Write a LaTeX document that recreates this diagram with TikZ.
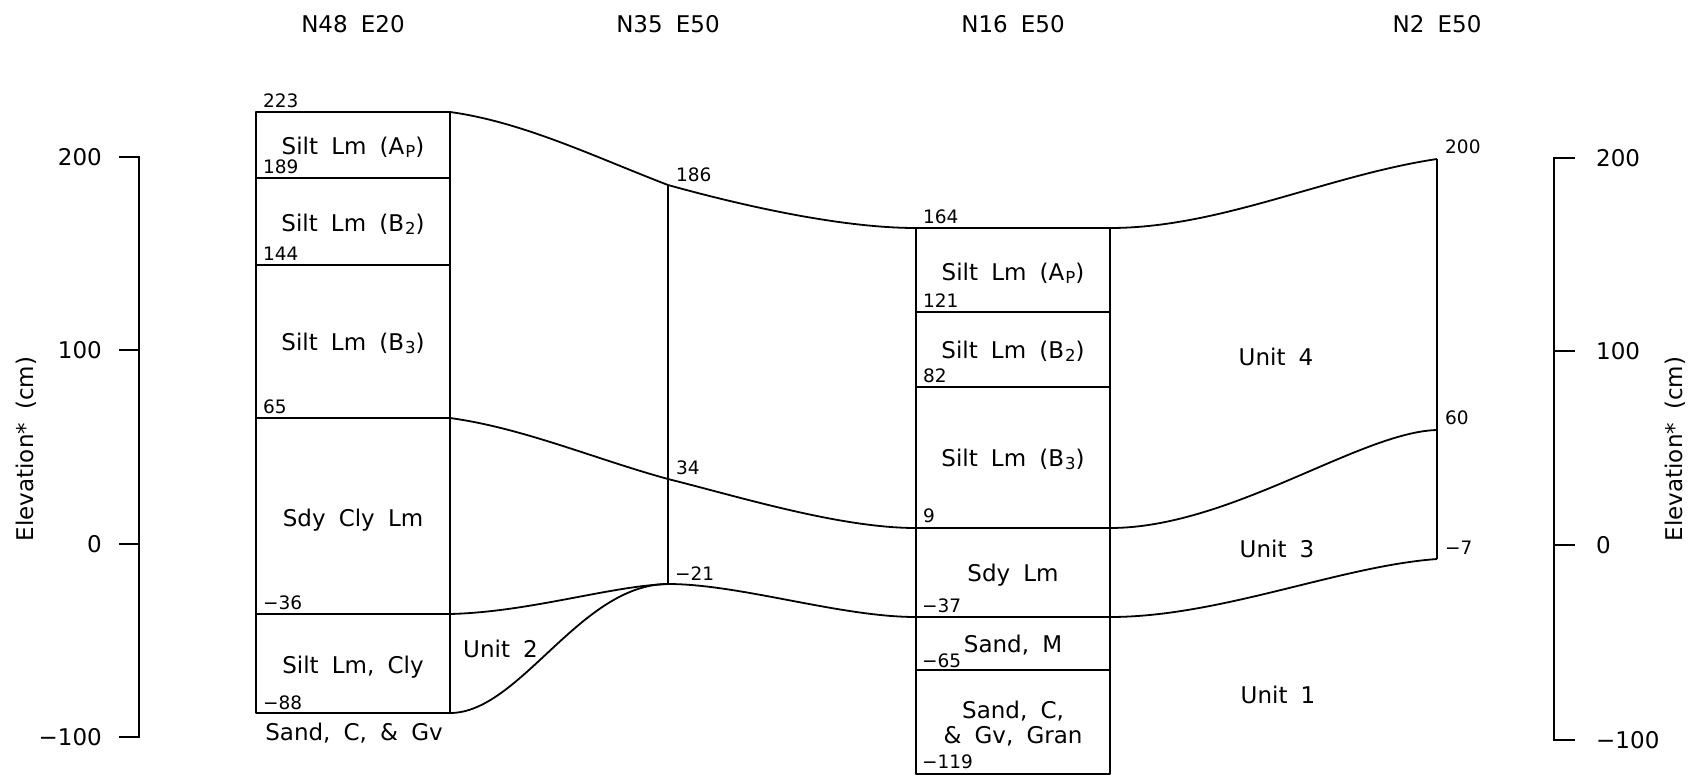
\documentclass[tikz,border=0pt]{standalone}
\usepackage{fontspec}
\setmainfont{DejaVu Sans}[WordSpace=1.8]
\newcommand\subtxt[1]{\kern1pt\raisebox{-3.5pt}{\fontsize{16.5}{17}\selectfont #1}}
\tikzset{
  bnd/.style={line width=1.8pt, line join=round},
  thinln/.style={line width=1.3pt},
  big/.style={font=\fontsize{23}{26}\selectfont, inner sep=0pt},
  txt/.style={big, anchor=base},
  dep/.style={font=\fontsize{18.5}{20}\selectfont, inner sep=0pt, anchor=base west},
  axl/.style={big, anchor=base, rotate=90},
}
\begin{document}
\begin{tikzpicture}[x=1pt,y=-1pt]
\useasboundingbox (0,0) rectangle (1694,777);

% ---------- key points ----------
\coordinate (a223) at (450,112);
\coordinate (a65)  at (450,418);
\coordinate (an36) at (450,614);
\coordinate (an88) at (450,713);
\coordinate (b186) at (668,185);
\coordinate (b34)  at (668,479);
\coordinate (bn21) at (668,584);
\coordinate (c164L) at (916,228);
\coordinate (c164R) at (1110,228);
\coordinate (c9L) at (916,528);
\coordinate (c9R) at (1110,528);
\coordinate (cn37L) at (916,617);
\coordinate (cn37R) at (1110,617);
\coordinate (d200) at (1437,159);
\coordinate (d60)  at (1437,430);
\coordinate (dn7)  at (1437,559);

% ---------- left column box (N48 E20) ----------
\draw[bnd] (256,112) rectangle (450,713);
\foreach \yy in {178,265,418,614} \draw[bnd] (256,\yy) -- (450,\yy);

% ---------- N16 E50 box ----------
\draw[bnd] (916,228) rectangle (1110,774);
\foreach \yy in {312,387,528,617,670} \draw[bnd] (916,\yy) -- (1110,\yy);

% ---------- vertical lines N35 and N2 ----------
\draw[thinln] (b186) -- (bn21);
\draw[thinln] (d200) -- (dn7);

% ---------- boundaries ----------
\draw[bnd] (a223) .. controls +(73,10) and +(-73,-28) .. (b186)
                  .. controls +(72,20) and +(-76,0) .. (c164L);
\draw[bnd] (c164R) .. controls +(110,0) and +(-110,16.5) .. (d200);

\draw[bnd] (a65) .. controls +(73,10) and +(-73,-20) .. (b34)
                 .. controls +(72,18) and +(-76,0) .. (c9L);
\draw[bnd] (c9R) .. controls +(120,0) and +(-77,2) .. (d60);

\draw[bnd] (an36) .. controls +(80,-2) and +(-58,2) .. (bn21)
                  .. controls +(72,0) and +(-76,0) .. (cn37L);
\draw[bnd] (cn37R) .. controls +(110,0) and +(-97,7) .. (dn7);

\draw[bnd] (an88) .. controls +(70,0) and +(-88,0) .. (bn21);

% ---------- axes ----------
\draw[thinln] (119,157) -- (139,157) -- (139,737) -- (119,737);
\draw[thinln] (119,350) -- (139,350);
\draw[thinln] (119,544) -- (139,544);
\draw[thinln] (1575,158) -- (1554,158) -- (1554,740) -- (1575,740);
\draw[thinln] (1554,351) -- (1575,351);
\draw[thinln] (1554,545) -- (1575,545);

\node[big, anchor=base east] (l200) at (102,165.5) {200};
\node[big, anchor=base east] (l100) at (102,358.5) {100};
\node[big, anchor=base east] (l0)   at (102,552.5) {0};
\node[big, anchor=base east] (lm100) at (102,745.5) {−100};
\node[big, anchor=base west] (r200) at (1596,166.5) {200};
\node[big, anchor=base west] (r100) at (1596,359.5) {100};
\node[big, anchor=base west] (r0)   at (1596,553.5) {0};
\node[big, anchor=base west] (rm100) at (1596,748.5) {−100};

\node[axl] (ylabL) at (33,449) {Elevation* (cm)};
\node[axl] (ylabR) at (1682,449) {Elevation* (cm)};

% ---------- titles ----------
\node[txt] (t1) at (353,32) {N48 E20};
\node[txt] (t2) at (668,32) {N35 E50};
\node[txt] (t3) at (1013,32) {N16 E50};
\node[txt] (t4) at (1437,32) {N2 E50};

% ---------- left column texts ----------
\node[txt] (la1) at (353,154) {Silt Lm (A\subtxt{P})};
\node[txt] (la2) at (353,231) {Silt Lm (B\subtxt{2})};
\node[txt] (la3) at (353,350) {Silt Lm (B\subtxt{3})};
\node[txt] (la4) at (353,526) {Sdy Cly Lm};
\node[txt] (la5) at (353,673) {Silt Lm, Cly};
\node[txt] (la6) at (354,740) {Sand, C, \& Gv};

\node[dep] (ld1) at (263,107) {223};
\node[dep] (ld2) at (263,173) {189};
\node[dep] (ld3) at (263,260) {144};
\node[dep] (ld4) at (263,413) {65};
\node[dep] (ld5) at (263,609) {−36};
\node[dep] (ld6) at (263,709) {−88};

% ---------- N35 depths ----------
\node[dep] (md1) at (676,181) {186};
\node[dep] (md2) at (676,474) {34};
\node[dep] (md3) at (675,580) {−21};

% ---------- N16 column texts ----------
\node[txt] (ra1) at (1013,280) {Silt Lm (A\subtxt{P})};
\node[txt] (ra2) at (1013,358) {Silt Lm (B\subtxt{2})};
\node[txt] (ra3) at (1013,466) {Silt Lm (B\subtxt{3})};
\node[txt] (ra4) at (1013,581) {Sdy Lm};
\node[txt] (ra5) at (1013,652) {Sand, M};
\node[txt] (ra6) at (1013,718) {Sand, C,};
\node[txt] (ra7) at (1013,743) {\& Gv, Gran};

\node[dep] (rd1) at (923,223) {164};
\node[dep] (rd2) at (923,307) {121};
\node[dep] (rd3) at (923,382) {82};
\node[dep] (rd4) at (923,522) {9};
\node[dep] (rd5) at (922,612) {−37};
\node[dep] (rd6) at (922,667) {−65};
\node[dep] (rd7) at (922,768) {−119};

% ---------- N2 depths ----------
\node[dep] (nd1) at (1445,153) {200};
\node[dep] (nd2) at (1445,424) {60};
\node[dep] (nd3) at (1445,554) {−7};

% ---------- units ----------
\node[txt] (u4) at (1276,365) {Unit 4};
\node[txt] (u3) at (1277,557) {Unit 3};
\node[txt] (u1) at (1278,703) {Unit 1};
\node[big, anchor=base west] (u2) at (463,657) {Unit 2};
\end{tikzpicture}
\end{document}
